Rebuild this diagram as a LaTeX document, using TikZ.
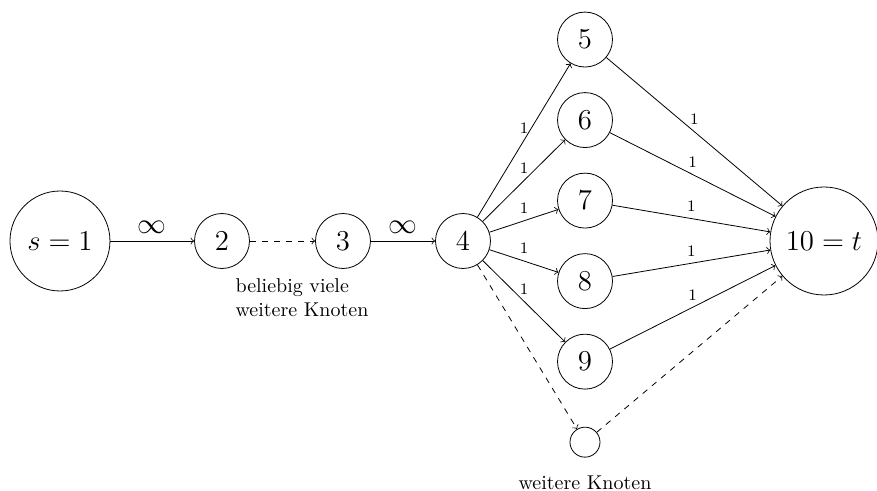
\documentclass[tikz,border=0pt]{standalone}
\usetikzlibrary{positioning}
\tikzset{
  knoten/.style = {circle, draw, minimum size=0.966cm, inner sep=1pt, font=\Large},
  gross/.style  = {knoten, minimum size=1.757cm},
  leer/.style   = {circle, draw, minimum size=0.527cm, inner sep=0pt},
  arr/.style    = {->},
  lab/.style    = {font=\footnotesize, midway, above},
  inf/.style    = {font=\Large, midway, above}
}
\begin{document}
\begin{tikzpicture}
  \useasboundingbox (-8.136,-4.393) rectangle (7.275,4.235);
  % Quelle, Kette, Senke
  \node[gross] (s) at (-7.082,0) {$s=1$};
  \node[knoten] (n2) at (-4.235,0) {$2$};
  \node[knoten] (n3) at (-2.109,0) {$3$};
  \node[knoten] (n4) at (0,0) {$4$};
  \node[knoten] (n5) at (2.144,3.54) {$5$};
  \node[knoten] (n6) at (2.144,2.125) {$6$};
  \node[knoten] (n7) at (2.144,0.71) {$7$};
  \node[knoten] (n8) at (2.144,-0.705) {$8$};
  \node[knoten] (n9) at (2.144,-2.12) {$9$};
  \node[leer] (mehr) at (2.144,-3.535) {};
  \node[gross, minimum size=1.898cm] (t) at (6.344,0) {$10=t$};
  \node[align=left] (txt1) at (-2.829,-1.002) {beliebig viele\\weitere Knoten};
  \node (txt2) at (2.144,-4.253) {weitere Knoten};

  \draw[arr] (s) -- node[inf] {$\infty$} (n2);
  \draw[arr,dashed] (n2) -- (n3);
  \draw[arr] (n3) -- node[inf] {$\infty$} (n4);
  \foreach \i in {5,...,9} {
    \draw[arr] (n4) -- node[lab] {1} (n\i);
    \draw[arr] (n\i) -- node[lab] {1} (t);
  }
  \draw[arr,dashed] (n4) -- (mehr);
  \draw[arr,dashed] (mehr) -- (t);
\end{tikzpicture}
\end{document}
